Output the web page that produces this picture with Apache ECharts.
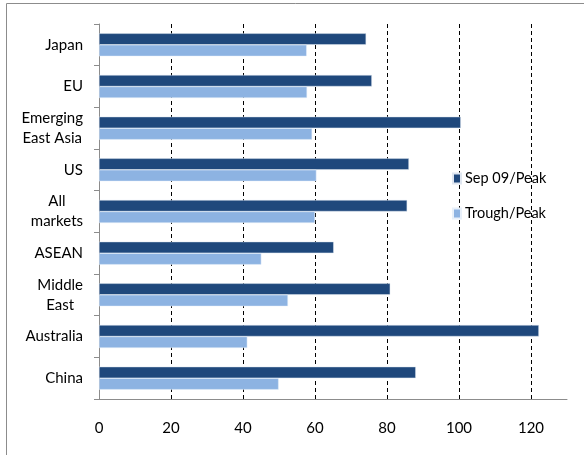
<!DOCTYPE html>
<html>
<head>
<meta charset="utf-8">
<script src="https://cdn.jsdelivr.net/npm/echarts@6/dist/echarts.min.js"></script>
<style>
  html, body { margin: 0; padding: 0; background: #fff; }
  #chart { width: 584px; height: 455px; }
</style>
</head>
<body>
<div id="chart"></div>
<script>
// Markets, listed top to bottom
var markets = ['Japan', 'EU', 'Emerging\nEast Asia', 'US', 'All\nmarkets', 'ASEAN', 'Middle\nEast', 'Australia', 'China'];
// Index levels relative to the pre-crisis peak
var sepToPeak = [74.2, 75.8, 100.5, 86.1, 85.6, 65.2, 80.9, 122.2, 88.0];
var troughToPeak = [57.7, 57.8, 59.2, 60.4, 60.0, 45.1, 52.5, 41.2, 49.9];
var seriesNames = ['Sep 09/Peak', 'Trough/Peak'];

var FONT = 'Lato';
var chart = echarts.init(document.getElementById('chart'));

// wrap every label line in a centred rich token so two-line labels sit centred
function centreLines(v) {
  return v.split('\n').map(function (s) { return '{c|' + s + '}'; }).join('\n');
}

chart.setOption({
  animation: false,
  textStyle: { fontFamily: FONT },
  graphic: [{
    type: 'rect',
    shape: { x: 6.5, y: 3.5, width: 700, height: 600 },
    style: { fill: 'none', stroke: '#8c8c8c', lineWidth: 1 },
    silent: true
  }],
  legend: {
    orient: 'vertical',
    left: 447,
    top: 166,
    itemWidth: 8,
    itemHeight: 10,
    itemGap: 20,
    icon: 'rect',
    textStyle: { fontFamily: FONT, fontSize: 14.5, color: '#000', padding: [0, 0, 0, -1] },
    data: seriesNames
  },
  grid: { left: 99, top: 24, right: 17, bottom: 56, containLabel: false },
  xAxis: {
    type: 'value',
    min: 0,
    max: 130,
    interval: 20,
    axisLine: { show: true, lineStyle: { color: '#8c8c8c', width: 1 } },
    axisTick: { show: false },
    axisLabel: {
      showMaxLabel: false,
      margin: 22,
      fontFamily: FONT, fontSize: 15, color: '#000'
    },
    splitLine: {
      show: true,
      showMinLine: false,
      showMaxLine: false,
      lineStyle: { color: '#000', type: [4, 3], width: 1 }
    }
  },
  yAxis: {
    type: 'category',
    inverse: true,
    data: markets,
    axisLine: { show: true, lineStyle: { color: '#8c8c8c', width: 1 } },
    axisTick: { show: true, length: 5, lineStyle: { color: '#8c8c8c' } },
    axisLabel: {
      margin: 16,
      fontFamily: FONT, fontSize: 15, color: '#000', lineHeight: 20,
      formatter: centreLines,
      rich: { c: { align: 'center', fontFamily: FONT, fontSize: 15, color: '#000', lineHeight: 20 } }
    }
  },
  series: [
    {
      name: seriesNames[0],
      type: 'bar',
      data: sepToPeak,
      barWidth: 11.5,
      barGap: '0%',
      itemStyle: { color: '#1f487c', borderColor: '#dfe6f0', borderWidth: 0.5 }
    },
    {
      name: seriesNames[1],
      type: 'bar',
      data: troughToPeak,
      barWidth: 11.5,
      barGap: '0%',
      itemStyle: { color: '#8db3e2', borderColor: '#e8f0fa', borderWidth: 0.5 }
    }
  ]
});
</script>
</body>
</html>
